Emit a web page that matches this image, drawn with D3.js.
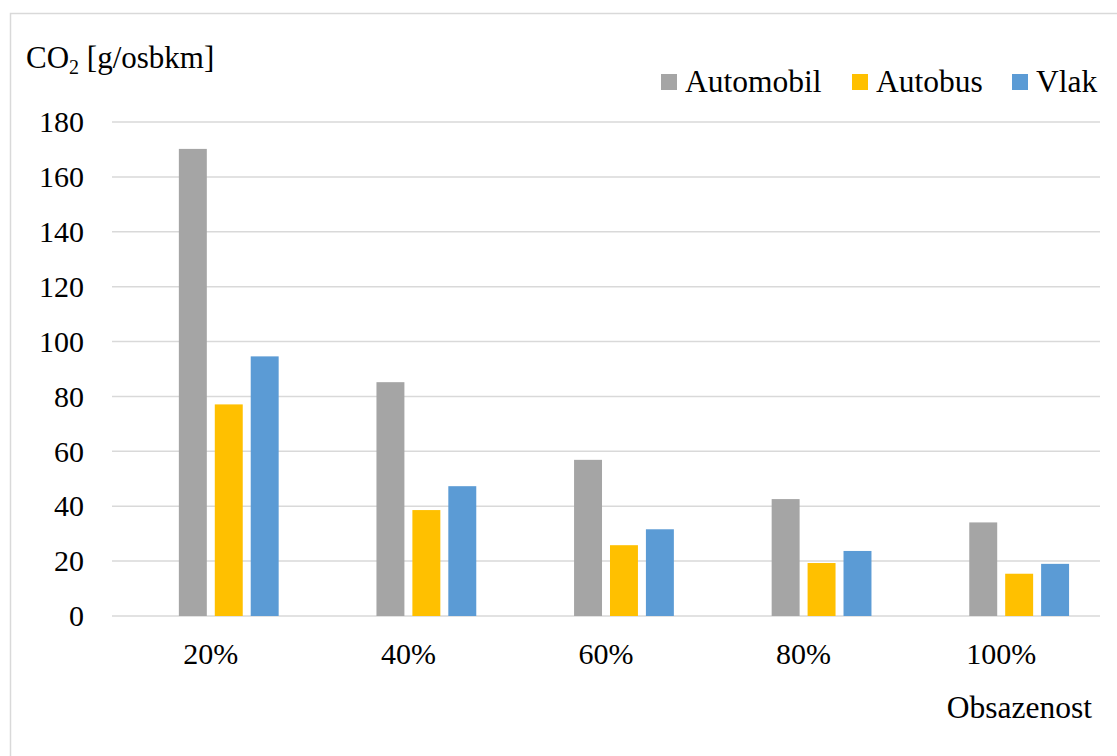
<!DOCTYPE html>
<html>
<head>
<meta charset="utf-8">
<script src="https://cdn.jsdelivr.net/npm/d3@7"></script>
<style>
  body { margin: 0; background: #fff; }
</style>
</head>
<body>
<div id="graphContainer"></div>
<script>
// data
const categories = ["20%", "40%", "60%", "80%", "100%"];
const seriesNames = ["Automobil", "Autobus", "Vlak"];
const automobil = [170.2, 85.2, 56.9, 42.6, 34.1];
const autobus = [77.1, 38.6, 25.8, 19.3, 15.4];
const vlak = [94.6, 47.3, 31.6, 23.7, 19.0];
const yTicks = [0, 20, 40, 60, 80, 100, 120, 140, 160, 180];
const colors = ["#a5a5a5", "#ffc000", "#5b9bd5"];

const width = 1117, height = 756;
const margin = {left: 112, right: 17, top: 122, bottom: 140};
const font = "'Liberation Serif', 'Times New Roman', serif";

let svg = d3.select("#graphContainer").append("svg")
    .attr("width", width)
    .attr("height", height)
    .attr("font-family", font)
    .style("font-family", font);

// frame of the chart (right and bottom sides are cut off)
svg.append("rect")
    .attr("x", 10.5).attr("y", 13.5)
    .attr("width", 1200).attr("height", 900)
    .attr("fill", "none")
    .attr("stroke", "#d9d9d9")
    .attr("stroke-width", 1.5);

let x0 = d3.scaleBand()
    .domain(categories)
    .range([margin.left, width - margin.right]);

// excel keeps an empty slot in front of the three series
let slots = ["", ...seriesNames];
let groupW = x0.bandwidth() * 4 / 5.5;
let x1 = d3.scaleBand()
    .domain(slots)
    .range([(x0.bandwidth() - groupW) / 2, (x0.bandwidth() + groupW) / 2])
    .paddingInner(0.222)
    .paddingOuter(0.111);

let y = d3.scaleLinear()
    .domain([0, 180])
    .range([height - margin.bottom, margin.top]);

// gridlines
svg.append("g")
    .selectAll("line")
    .data(yTicks)
    .enter().append("line")
    .attr("x1", margin.left)
    .attr("x2", width - margin.right)
    .attr("y1", d => y(d))
    .attr("y2", d => y(d))
    .attr("stroke", "#d9d9d9")
    .attr("stroke-width", 1.5);

// y tick labels
svg.append("g")
    .selectAll("text")
    .data(yTicks)
    .enter().append("text")
    .attr("x", margin.left - 28)
    .attr("y", d => y(d))
    .attr("dy", "0.34em")
    .attr("text-anchor", "end")
    .style("font-family", font)
    .style("font-size", "30px")
    .text(d => d);

// bars
let values = [automobil, autobus, vlak];
let rows = [];
categories.forEach((c, i) => {
    seriesNames.forEach((s, j) => {
        rows.push({cat: c, name: s, value: values[j][i], color: colors[j]});
    });
});

svg.append("g")
    .selectAll("rect")
    .data(rows)
    .enter().append("rect")
    .attr("x", d => x0(d.cat) + x1(d.name))
    .attr("y", d => y(d.value))
    .attr("width", x1.bandwidth())
    .attr("height", d => y(0) - y(d.value))
    .attr("fill", d => d.color);

// x labels
svg.append("g")
    .selectAll("text")
    .data(categories)
    .enter().append("text")
    .attr("x", d => x0(d) + x0.bandwidth() / 2)
    .attr("y", 664)
    .attr("text-anchor", "middle")
    .style("font-family", font)
    .style("font-size", "30px")
    .text(d => d);

// axis titles
let yt = svg.append("text")
    .attr("x", 26)
    .attr("y", 68)
    .style("font-family", font)
    .style("font-size", "31px");
yt.append("tspan").text("CO");
yt.append("tspan").attr("dy", 6).style("font-size", "20px").text("2");
yt.append("tspan").attr("dy", -6).text(" [g/osbkm]");

svg.append("text")
    .attr("x", 1092)
    .attr("y", 718)
    .attr("text-anchor", "end")
    .style("font-family", font)
    .style("font-size", "31.5px")
    .text("Obsazenost");

// legend
let legendX = [661, 852, 1012];
let legend = svg.append("g")
    .selectAll("g")
    .data(seriesNames)
    .enter().append("g")
    .attr("transform", (d, i) => `translate(${legendX[i]},74)`);
legend.append("rect")
    .attr("width", 16)
    .attr("height", 16)
    .attr("fill", (d, i) => colors[i]);
legend.append("text")
    .attr("x", 24)
    .attr("y", 17.5)
    .style("font-family", font)
    .style("font-size", "31.5px")
    .text(d => d);
</script>
</body>
</html>
